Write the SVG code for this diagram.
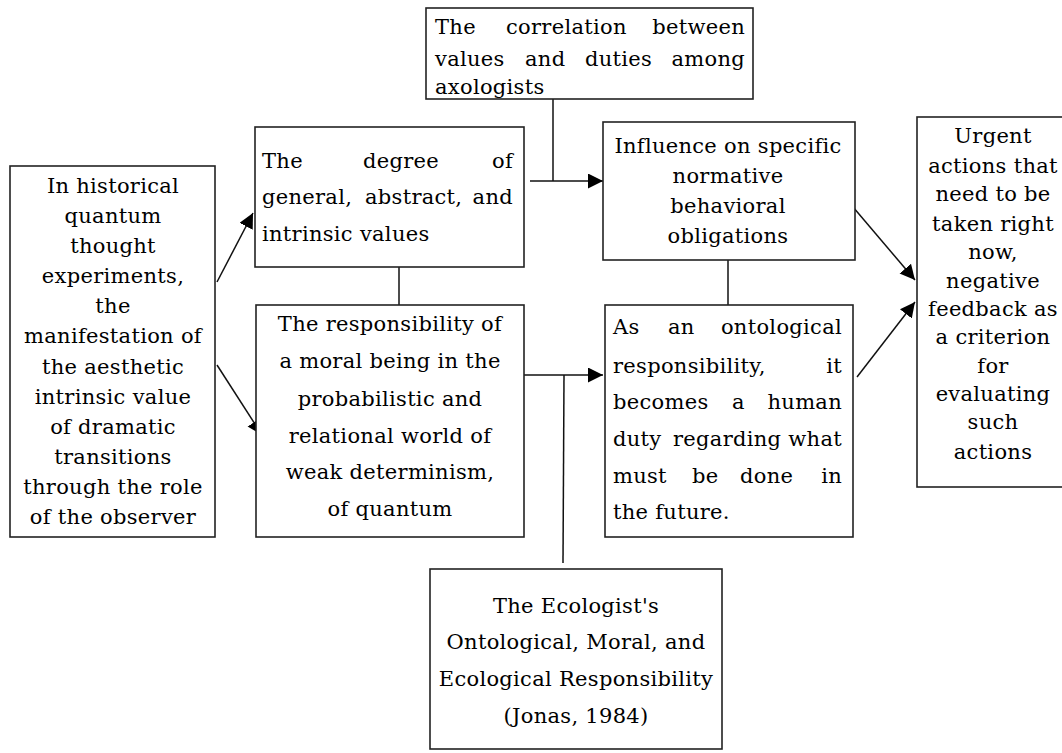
<svg xmlns="http://www.w3.org/2000/svg" width="1062" height="753" viewBox="0 0 1062 753">
<defs>
<style>
.box{fill:#fff;stroke:#222;stroke-width:1.6}
.t{font-family:"DejaVu Serif",serif;font-size:21px;letter-spacing:0.3px;fill:#000}
.c{text-anchor:middle}
.e{text-anchor:end}
.ln{stroke:#111;stroke-width:1.5;fill:none}
</style>
<marker id="ah" markerUnits="userSpaceOnUse" markerWidth="16" markerHeight="16" refX="15" refY="7.5" orient="auto">
<path d="M0,0 L15,7.5 L0,15 z" fill="#000"/>
</marker>
</defs>
<rect width="1062" height="753" fill="#fff"/>

<g id="connectors">
<line class="ln" x1="553" y1="99" x2="553" y2="181"/>
<line class="ln" x1="530" y1="181" x2="603" y2="181" marker-end="url(#ah)"/>
<line class="ln" x1="399" y1="267" x2="399" y2="305"/>
<line class="ln" x1="728" y1="260" x2="728" y2="305"/>
<line class="ln" x1="524" y1="375" x2="603" y2="375" marker-end="url(#ah)"/>
<line class="ln" x1="564" y1="375" x2="563" y2="563"/>
<line class="ln" x1="217" y1="282" x2="253" y2="213" marker-end="url(#ah)"/>
<line class="ln" x1="217" y1="365" x2="262" y2="435" marker-end="url(#ah)"/>
<line class="ln" x1="853" y1="207" x2="915" y2="280" marker-end="url(#ah)"/>
<line class="ln" x1="857" y1="377" x2="915" y2="302" marker-end="url(#ah)"/>
</g>

<g id="node-left">
<rect class="box" x="10" y="166" width="205" height="371"/>
<text class="t c" x="113" y="193">In historical</text>
<text class="t c" x="113" y="223">quantum</text>
<text class="t c" x="113" y="253">thought</text>
<text class="t c" x="113" y="283">experiments,</text>
<text class="t c" x="113" y="313">the</text>
<text class="t c" x="113" y="343">manifestation of</text>
<text class="t c" x="113" y="374">the aesthetic</text>
<text class="t c" x="113" y="404">intrinsic value</text>
<text class="t c" x="113" y="434">of dramatic</text>
<text class="t c" x="113" y="464">transitions</text>
<text class="t c" x="113" y="494">through the role</text>
<text class="t c" x="113" y="524">of the observer</text>
</g>

<g id="node-degree">
<rect class="box" x="255" y="127" width="269" height="140"/>
<text class="t" x="262" y="168">The</text>
<text class="t" x="363" y="168">degree</text>
<text class="t e" x="513" y="168">of</text>
<text class="t" x="262" y="204">general,</text>
<text class="t" x="365" y="204">abstract,</text>
<text class="t e" x="513" y="204">and</text>
<text class="t" x="262" y="241">intrinsic values</text>
</g>

<g id="node-responsibility">
<rect class="box" x="256" y="305" width="268" height="232"/>
<text class="t c" x="390" y="331">The responsibility of</text>
<text class="t c" x="390" y="368">a moral being in the</text>
<text class="t c" x="390" y="406">probabilistic and</text>
<text class="t c" x="390" y="443">relational world of</text>
<text class="t c" x="390" y="479">weak determinism,</text>
<text class="t c" x="390" y="516">of quantum</text>
</g>

<g id="node-correlation">
<rect class="box" x="426" y="8" width="327" height="91"/>
<text class="t" x="435" y="34">The</text>
<text class="t" x="506" y="34">correlation</text>
<text class="t e" x="745" y="34">between</text>
<text class="t" x="435" y="66">values</text>
<text class="t" x="525" y="66">and</text>
<text class="t" x="585" y="66">duties</text>
<text class="t e" x="745" y="66">among</text>
<text class="t" x="435" y="94">axologists</text>
</g>

<g id="node-influence">
<rect class="box" x="603" y="122" width="252" height="138"/>
<text class="t c" x="728" y="153">Influence on specific</text>
<text class="t c" x="728" y="183">normative</text>
<text class="t c" x="728" y="213">behavioral</text>
<text class="t c" x="728" y="243">obligations</text>
</g>

<g id="node-ontological">
<rect class="box" x="605" y="305" width="248" height="232"/>
<text class="t" x="613" y="334">As</text>
<text class="t" x="668" y="334">an</text>
<text class="t e" x="842" y="334">ontological</text>
<text class="t" x="613" y="373">responsibility,</text>
<text class="t e" x="842" y="373">it</text>
<text class="t" x="613" y="409">becomes</text>
<text class="t" x="732" y="409">a</text>
<text class="t e" x="842" y="409">human</text>
<text class="t" x="613" y="446">duty</text>
<text class="t" x="673" y="446">regarding</text>
<text class="t e" x="842" y="446">what</text>
<text class="t" x="613" y="483">must</text>
<text class="t" x="692" y="483">be</text>
<text class="t" x="740" y="483">done</text>
<text class="t e" x="842" y="483">in</text>
<text class="t" x="613" y="519">the future.</text>
</g>

<g id="node-urgent">
<rect class="box" x="917" y="117" width="152" height="370"/>
<text class="t c" x="993" y="143">Urgent</text>
<text class="t c" x="993" y="173">actions that</text>
<text class="t c" x="993" y="201">need to be</text>
<text class="t c" x="993" y="231">taken right</text>
<text class="t c" x="993" y="259">now,</text>
<text class="t c" x="993" y="288">negative</text>
<text class="t c" x="993" y="316">feedback as</text>
<text class="t c" x="993" y="344">a criterion</text>
<text class="t c" x="993" y="373">for</text>
<text class="t c" x="993" y="401">evaluating</text>
<text class="t c" x="993" y="429">such</text>
<text class="t c" x="993" y="459">actions</text>
</g>

<g id="node-ecologist">
<rect class="box" x="430" y="569" width="292" height="180"/>
<text class="t c" x="576" y="613">The Ecologist's</text>
<text class="t c" x="576" y="649">Ontological, Moral, and</text>
<text class="t c" x="576" y="686">Ecological Responsibility</text>
<text class="t c" x="576" y="723">(Jonas, 1984)</text>
</g>
</svg>
